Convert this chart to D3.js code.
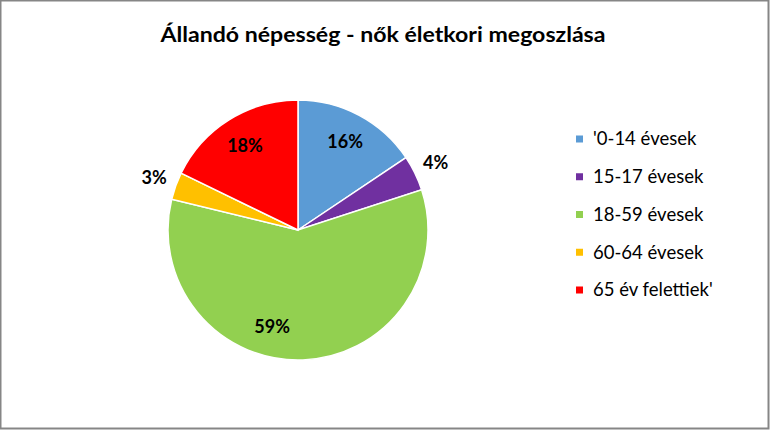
<!DOCTYPE html>
<html lang="hu">
<head>
  <meta charset="utf-8" />
  <title>Állandó népesség - nők életkori megoszlása</title>
  <script src="https://cdn.jsdelivr.net/npm/d3@7"></script>
  <style>
    html, body { margin: 0; padding: 0; background: #fff; }
    svg { display: block; font-family: Lato, "Open Sans", sans-serif; }
  </style>
</head>
<body>
<script>
  // data
  var categories = ["'0-14 évesek", "15-17 évesek", "18-59 évesek", "60-64 évesek", "65 év felettiek'"];
  var values = [15.6, 4.4, 58.8, 3.4, 17.8];
  var labels = ["16%", "4%", "59%", "3%", "18%"];
  var colors = ["#5B9BD5", "#7030A0", "#92D050", "#FFC000", "#FF0000"];
  var title = "Állandó népesség - nők életkori megoszlása";

  var width = 770, height = 430;
  var cx = 298, cy = 230, r = 130;

  var svg = d3.select("body").append("svg")
    .attr("width", width)
    .attr("height", height);

  // chart area frame
  svg.append("rect")
    .attr("x", 0.5).attr("y", 0.5)
    .attr("width", width - 2).attr("height", height - 2)
    .attr("fill", "#fff")
    .attr("stroke", "#868686")
    .attr("stroke-width", 2);

  svg.append("text")
    .attr("x", 383)
    .attr("y", 42)
    .attr("text-anchor", "middle")
    .style("font-size", "20px")
    .style("font-weight", "bold")
    .attr("textLength", 445)
    .attr("lengthAdjust", "spacingAndGlyphs")
    .text(title);

  var pie = d3.pie().sort(null).value(function(d) { return d; });
  var arcs = pie(values);

  var arc = d3.arc().innerRadius(0).outerRadius(r);

  var g = svg.append("g").attr("transform", "translate(" + cx + "," + cy + ")");

  g.selectAll("path.slice")
    .data(arcs)
    .enter().append("path")
    .attr("class", "slice")
    .attr("d", arc)
    .attr("fill", function(d, i) { return colors[i]; })
    .attr("stroke", "#fff")
    .attr("stroke-width", 1.5);

  // small slices get their label outside, like the spreadsheet's best fit
  function labelPos(d, i) {
    var a = (d.startAngle + d.endAngle) / 2;
    var small = (d.endAngle - d.startAngle) < 0.35;
    var rr = small ? 153 : 100;
    if (d.endAngle - d.startAngle > Math.PI) a += 0.3; // big slice label sits left of middle
    return [rr * Math.sin(a), -rr * Math.cos(a)];
  }

  g.selectAll("text.lbl")
    .data(arcs)
    .enter().append("text")
    .attr("class", "lbl")
    .attr("x", function(d, i) { return labelPos(d, i)[0]; })
    .attr("y", function(d, i) { return labelPos(d, i)[1]; })
    .attr("dy", "0.35em")
    .attr("text-anchor", "middle")
    .style("font-size", "18px")
    .style("font-weight", "bold")
    .attr("fill", "#000")
    .text(function(d, i) { return labels[i]; });

  // legend
  var ly = d3.scalePoint().domain(categories).range([139, 290]);
  var leg = svg.selectAll("g.leg")
    .data(categories)
    .enter().append("g")
    .attr("class", "leg")
    .attr("transform", function(d) { return "translate(576," + ly(d) + ")"; });

  leg.append("rect")
    .attr("x", 0).attr("y", -3.5)
    .attr("width", 7).attr("height", 7)
    .attr("fill", function(d, i) { return colors[i]; });

  leg.append("text")
    .attr("x", 17)
    .attr("dy", "0.35em")
    .style("font-size", "18.5px")
    .attr("fill", "#000")
    .text(function(d) { return d; });
</script>
</body>
</html>
